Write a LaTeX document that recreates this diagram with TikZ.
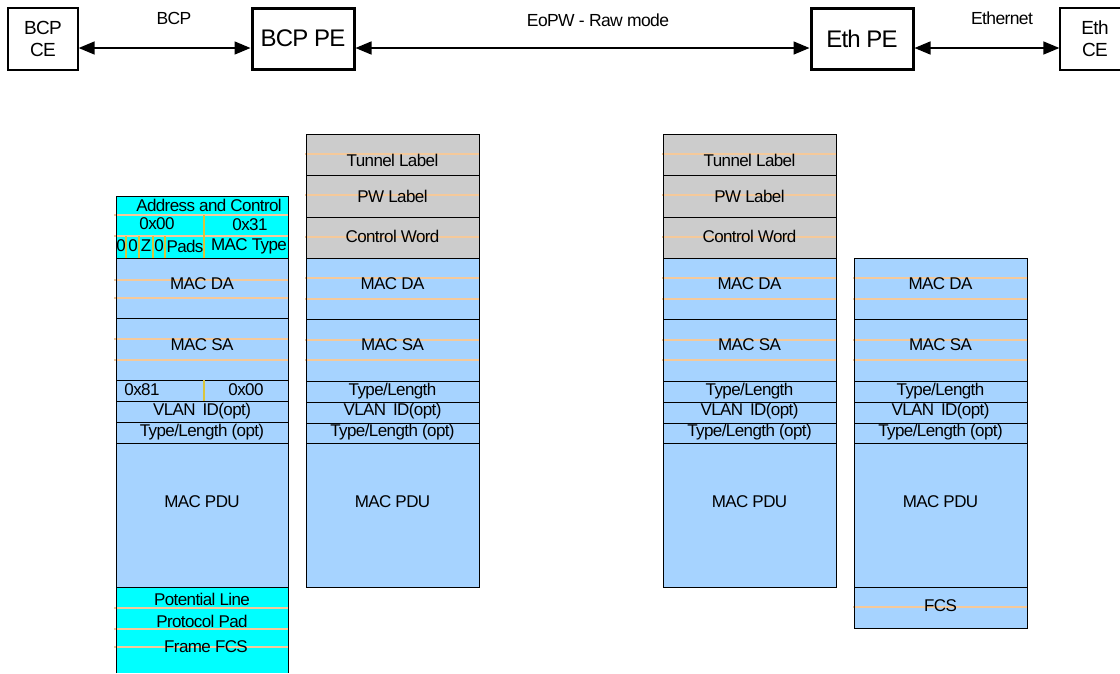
\documentclass[tikz,border=0pt]{standalone}
\usepackage{fontspec}
\setmainfont{Liberation Sans}
\newfontfamily\tightfont[LetterSpace=-3.5]{Liberation Sans}
\usetikzlibrary{arrows.meta}
\definecolor{cyanf}{HTML}{00FFFF}
\definecolor{bluef}{HTML}{A6D3FF}
\definecolor{grayf}{HTML}{CCCCCC}
\definecolor{orl}{HTML}{F5C99A}
\definecolor{yel}{HTML}{D9C43C}
\tikzset{
  fld/.style={inner sep=0pt, font=\tightfont\fontsize{17}{17}\selectfont},
  orline/.style={draw=orl, line width=1.1pt},
  blkline/.style={draw=black, line width=0.9pt},
  yline/.style={draw=yel, line width=1.1pt},
  cebox/.style={draw, line width=1.3pt, minimum width=70pt, minimum height=62pt, align=center, inner sep=0pt, font=\tightfont\fontsize{19}{22}\selectfont},
  pebox/.style={draw, line width=3pt, minimum width=102pt, minimum height=61pt, inner sep=0pt, font=\tightfont\fontsize{24}{24}\selectfont},
  link/.style={{Triangle[length=16pt,width=13pt]}-{Triangle[length=16pt,width=13pt]}, line width=1.5pt},
  lbl/.style={inner sep=0pt, font=\tightfont\fontsize{17.5}{17.5}\selectfont}
}
\begin{document}
\begin{tikzpicture}[x=1pt,y=-1pt]
\useasboundingbox (0,0) rectangle (1120,673);
% ---- top graph ----
\node[cebox] (bcpce) at (43,39) {BCP\\CE};
\node[pebox] (bcppe) at (303,38.5) {BCP PE};
\node[pebox] (ethpe) at (862,38.5) {Eth PE};
\node[cebox] (ethce) at (1095,39) {Eth\\CE};
\draw[link] ([yshift=-9pt]bcpce.east) -- ([yshift=-9.5pt]bcppe.west);
\draw[link] ([yshift=-9.5pt]bcppe.east) -- ([yshift=-9.5pt]ethpe.west);
\draw[link] ([yshift=-9.5pt]ethpe.east) -- ([yshift=-9pt]ethce.west);
\node[lbl] (lbcp) at (174,18) {BCP};
\node[lbl] (leopw) at (598,20) {EoPW - Raw mode};
\node[lbl] (leth) at (1002,18) {Ethernet};
% ---- column 1 (BCP frame) ----
\fill[cyanf] (116,196) rectangle (288,258);
\fill[bluef] (116,258) rectangle (288,587);
\fill[cyanf] (116,587) rectangle (288,673);
\foreach \y in {215,236,280,298,339,360,608,629,647} \draw[orline] (114,\y) -- (289,\y);
\foreach \y in {258,318,380,401,422,443,587} \draw[blkline] (116,\y) -- (288,\y);
\draw[yline] (204,215) -- (204,258);
\foreach \x in {126,139,153,165} \draw[yline] (\x,236) -- (\x,258);
\draw[yline] (204,380) -- (204,401);
\draw[blkline] (116,673) -- (116,196) -- (288,196) -- (288,673);
\node[fld] (a1) at (209,205) {Address and Control};
\node[fld] (a2) at (157,224) {0x00};
\node[fld] (a3) at (250,225) {0x31};
\node[fld] (a4) at (121,246) {0};
\node[fld] (a5) at (133,246) {0};
\node[fld] (a6) at (146,246) {Z};
\node[fld] (a7) at (159,246) {0};
\node[fld] (a8) at (185,246) {Pads};
\node[fld] (a9) at (249,246) {MAC Type};
\node[fld] (a10) at (202,284) {MAC DA};
\node[fld] (a11) at (202,345) {MAC SA};
\node[fld] (a12) at (142,390) {0x81};
\node[fld] (a13) at (246,390) {0x00};
\node[fld] (a14) at (202,411) {VLAN\, ID(opt)};
\node[fld] (a15) at (202,432) {Type/Length (opt)};
\node[fld] (a16) at (202,502) {MAC PDU};
\node[fld] (a17) at (202,599) {Potential Line};
\node[fld] (a18) at (202,621) {Protocol Pad};
\node[fld] (a19) at (206,647) {Frame FCS};
% ---- columns 2 and 3 (PW frames) ----
\foreach \n/\xa/\xb in {b/306/479, c/663/836} {
  \pgfmathsetmacro{\xm}{(\xa+\xb)/2}
  \fill[grayf] (\xa,134) rectangle (\xb,258);
  \fill[bluef] (\xa,258) rectangle (\xb,587);
  \foreach \y in {154,195,237,278,299,340,360} \draw[orline] (\xa-1,\y) -- (\xb+1,\y);
  \foreach \y in {175,217,258,319,381,402,423,443} \draw[blkline] (\xa,\y) -- (\xb,\y);
  \draw[blkline] (\xa,134) rectangle (\xb,587);
  \node[fld] (\n1) at (\xm,160) {Tunnel Label};
  \node[fld] (\n2) at (\xm,196) {PW Label};
  \node[fld] (\n3) at (\xm,236) {Control Word};
  \node[fld] (\n4) at (\xm,284) {MAC DA};
  \node[fld] (\n5) at (\xm,345) {MAC SA};
  \node[fld] (\n6) at (\xm,391) {Type/Length};
  \node[fld] (\n7) at (\xm,411) {VLAN\, ID(opt)};
  \node[fld] (\n8) at (\xm,432) {Type/Length (opt)};
  \node[fld] (\n9) at (\xm,502) {MAC PDU};
}
% ---- column 4 (Ethernet frame) ----
\fill[bluef] (854,258) rectangle (1027,628);
\foreach \y in {278,299,340,360,607} \draw[orline] (853,\y) -- (1028,\y);
\foreach \y in {319,381,402,423,443,587} \draw[blkline] (854,\y) -- (1027,\y);
\draw[blkline] (854,258) rectangle (1027,628);
\node[fld] (d4) at (940.5,284) {MAC DA};
\node[fld] (d5) at (940.5,345) {MAC SA};
\node[fld] (d6) at (940.5,391) {Type/Length};
\node[fld] (d7) at (940.5,411) {VLAN\, ID(opt)};
\node[fld] (d8) at (940.5,432) {Type/Length (opt)};
\node[fld] (d9) at (940.5,502) {MAC PDU};
\node[fld] (d10) at (940.5,606) {FCS};
\end{tikzpicture}
\end{document}
